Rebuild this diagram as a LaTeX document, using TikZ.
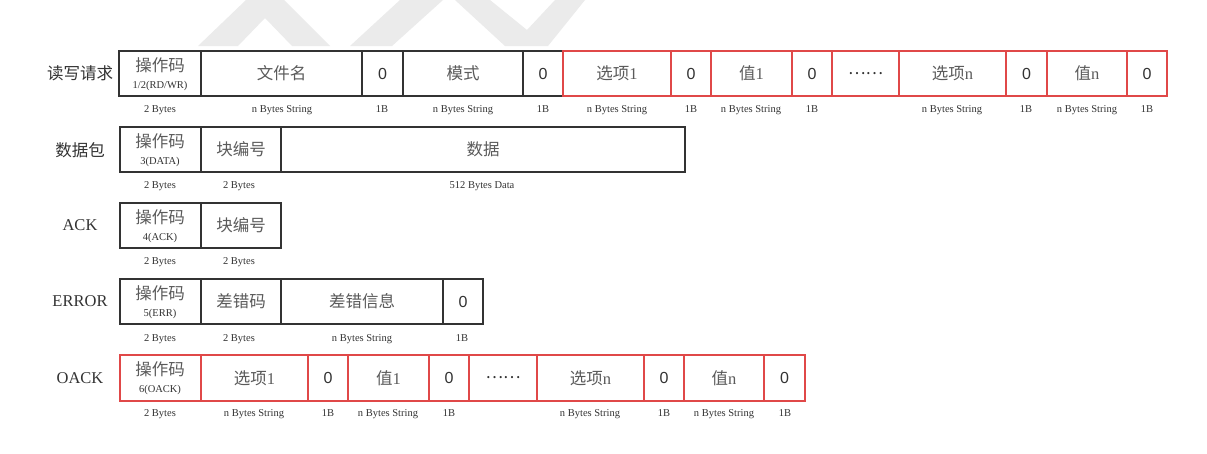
\documentclass[tikz,border=0pt]{standalone}
\usepackage{fontspec}
\setmainfont{Liberation Serif}
\newfontfamily\cjk{Noto Sans CJK SC}
\newfontfamily\zerofont{Liberation Sans}
\definecolor{blk}{HTML}{333333}
\definecolor{redc}{HTML}{E04848}
\definecolor{txtgray}{HTML}{5A5A5A}
\definecolor{lbl}{HTML}{333333}
\definecolor{wm}{HTML}{EBEBEB}
\tikzset{
  cellbox/.style={draw=blk, line width=1.1pt, inner sep=0pt, text=txtgray, font=\cjk\fontsize{16.5}{18}\selectfont},
  redcell/.style={cellbox, draw=redc, line width=1.25pt},
  zero/.style={font=\zerofont\fontsize{16}{18}\selectfont, text=blk, inner sep=0pt},
  szlabel/.style={font=\fontsize{10.5}{12}\selectfont, text=lbl, inner sep=0pt, text height=7pt, text depth=2pt},
  opsub/.style={font=\fontsize{10.5}{12}\selectfont, text=blk, inner sep=0pt, text height=7.5pt, text depth=2.5pt},
  rowlabel/.style={font=\fontsize{16.5}{18}\selectfont, text=blk, inner sep=0pt},
  cjkrow/.style={font=\cjk\fontsize{16.5}{18}\selectfont, text=blk, inner sep=0pt},
}
\newcommand\fcell[7]{\node[#7, minimum width={(#3-#2)*1pt}, minimum height={(#5-#4)*1pt}] (#1) at ({(#2+#3)/2},{(#4+#5)/2}) {#6};}
\newcommand\szl[4]{\node[szlabel] (#1) at (#2,#3) {#4};}
\begin{document}
\begin{tikzpicture}[x=1pt,y=-1pt]
\useasboundingbox (0,0) rectangle (1207,453);
\fill[white] (0,0) rectangle (1207,453);
% watermark
\fill[wm] (198,46) -- (246,0) -- (284,0) -- (330,46) -- (292,46) -- (265,18) -- (238,46) -- cycle;
\fill[wm] (350,46) -- (392,46) -- (443,0) -- (400,0) -- cycle;
\fill[wm] (455,0) -- (490,0) -- (527,30) -- (555,0) -- (585,0) -- (548,46) -- (505,46) -- cycle;

% ---------- Row 1: read/write request
\node[cjkrow] (l1) at (80,73) {读写请求};
\fcell{r1op}{119}{201}{51}{96}{}{cellbox}
\node[cjkrow, text=txtgray] (r1opa) at (160,65) {操作码};
\node[opsub] (r1opb) at (160,86) {1/2(RD/WR)};
\fcell{r1fn}{201}{362}{51}{96}{文件名}{cellbox}
\fcell{r1z1}{362}{403}{51}{96}{}{cellbox}
\node[zero] (r1z1t) at (r1z1) {0};
\fcell{r1md}{403}{523}{51}{96}{模式}{cellbox}
\fcell{r1z2}{523}{563}{51}{96}{}{cellbox}
\node[zero] (r1z2t) at (r1z2) {0};
\fcell{r1o1}{563}{671}{51}{96}{选项{\rmfamily 1}}{redcell}
\fcell{r1z3}{671}{711}{51}{96}{}{redcell}
\node[zero] (r1z3t) at (r1z3) {0};
\fcell{r1v1}{711}{792}{51}{96}{值{\rmfamily 1}}{redcell}
\fcell{r1z4}{792}{832}{51}{96}{}{redcell}
\node[zero] (r1z4t) at (r1z4) {0};
\fcell{r1dt}{832}{899}{51}{96}{\textcolor{blk}{……}}{redcell}
\fcell{r1on}{899}{1006}{51}{96}{选项{\rmfamily n}}{redcell}
\fcell{r1z5}{1006}{1047}{51}{96}{}{redcell}
\node[zero] (r1z5t) at (r1z5) {0};
\fcell{r1vn}{1047}{1127}{51}{96}{值{\rmfamily n}}{redcell}
\fcell{r1z6}{1127}{1167}{51}{96}{}{redcell}
\node[zero] (r1z6t) at (r1z6) {0};
\szl{s11}{160}{110}{2 Bytes}
\szl{s12}{282}{110}{n Bytes String}
\szl{s13}{382}{110}{1B}
\szl{s14}{463}{110}{n Bytes String}
\szl{s15}{543}{110}{1B}
\szl{s16}{617}{110}{n Bytes String}
\szl{s17}{691}{110}{1B}
\szl{s18}{751}{110}{n Bytes String}
\szl{s19}{812}{110}{1B}
\szl{s1a}{952}{110}{n Bytes String}
\szl{s1b}{1026}{110}{1B}
\szl{s1c}{1087}{110}{n Bytes String}
\szl{s1d}{1147}{110}{1B}

% ---------- Row 2: data
\node[cjkrow] (l2) at (80,150) {数据包};
\fcell{r2op}{120}{201}{127}{172}{}{cellbox}
\node[cjkrow, text=txtgray] (r2opa) at (160,141) {操作码};
\node[opsub] (r2opb) at (160,162) {3(DATA)};
\fcell{r2bn}{201}{281}{127}{172}{块编号}{cellbox}
\fcell{r2dt}{281}{685}{127}{172}{数据}{cellbox}
\szl{s21}{160}{186}{2 Bytes}
\szl{s22}{239}{186}{2 Bytes}
\szl{s23}{482}{186}{512 Bytes Data}

% ---------- Row 3: ACK
\node[rowlabel] (l3) at (80,225) {ACK};
\fcell{r3op}{120}{201}{203}{248}{}{cellbox}
\node[cjkrow, text=txtgray] (r3opa) at (160,217) {操作码};
\node[opsub] (r3opb) at (160,238) {4(ACK)};
\fcell{r3bn}{201}{281}{203}{248}{块编号}{cellbox}
\szl{s31}{160}{262}{2 Bytes}
\szl{s32}{239}{262}{2 Bytes}

% ---------- Row 4: ERROR
\node[rowlabel] (l4) at (80,301) {ERROR};
\fcell{r4op}{120}{201}{279}{324}{}{cellbox}
\node[cjkrow, text=txtgray] (r4opa) at (160,293) {操作码};
\node[opsub] (r4opb) at (160,314) {5(ERR)};
\fcell{r4ec}{201}{281}{279}{324}{差错码}{cellbox}
\fcell{r4em}{281}{443}{279}{324}{差错信息}{cellbox}
\fcell{r4z}{443}{483}{279}{324}{}{cellbox}
\node[zero] (r4zt) at (r4z) {0};
\szl{s41}{160}{339}{2 Bytes}
\szl{s42}{239}{339}{2 Bytes}
\szl{s43}{362}{339}{n Bytes String}
\szl{s44}{462}{339}{1B}

% ---------- Row 5: OACK
\node[rowlabel] (l5) at (80,378) {OACK};
\fcell{r5op}{120}{201}{355}{401}{}{redcell}
\node[cjkrow, text=txtgray] (r5opa) at (160,369) {操作码};
\node[opsub] (r5opb) at (160,390) {6(OACK)};
\fcell{r5o1}{201}{308}{355}{401}{选项{\rmfamily 1}}{redcell}
\fcell{r5z1}{308}{348}{355}{401}{}{redcell}
\node[zero] (r5z1t) at (r5z1) {0};
\fcell{r5v1}{348}{429}{355}{401}{值{\rmfamily 1}}{redcell}
\fcell{r5z2}{429}{469}{355}{401}{}{redcell}
\node[zero] (r5z2t) at (r5z2) {0};
\fcell{r5dt}{469}{537}{355}{401}{\textcolor{blk}{……}}{redcell}
\fcell{r5on}{537}{644}{355}{401}{选项{\rmfamily n}}{redcell}
\fcell{r5z3}{644}{684}{355}{401}{}{redcell}
\node[zero] (r5z3t) at (r5z3) {0};
\fcell{r5vn}{684}{764}{355}{401}{值{\rmfamily n}}{redcell}
\fcell{r5z4}{764}{805}{355}{401}{}{redcell}
\node[zero] (r5z4t) at (r5z4) {0};
\szl{s51}{160}{414}{2 Bytes}
\szl{s52}{254}{414}{n Bytes String}
\szl{s53}{328}{414}{1B}
\szl{s54}{388}{414}{n Bytes String}
\szl{s55}{449}{414}{1B}
\szl{s56}{590}{414}{n Bytes String}
\szl{s57}{664}{414}{1B}
\szl{s58}{724}{414}{n Bytes String}
\szl{s59}{785}{414}{1B}
\end{tikzpicture}
\end{document}
